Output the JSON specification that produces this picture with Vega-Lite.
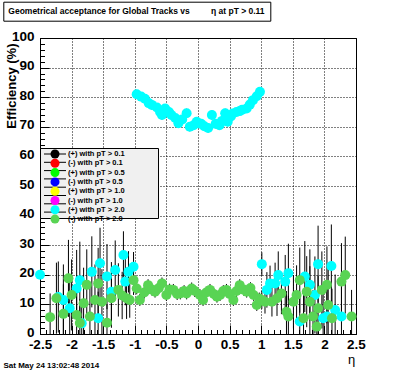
{
  "$schema": "https://vega.github.io/schema/vega-lite/v6.json",
  "width": 316,
  "height": 296,
  "autosize": {"type": "none"},
  "padding": {"left": 40, "top": 38, "right": 40, "bottom": 38},
  "background": "white",
  "config": {
    "view": {"stroke": "black", "strokeWidth": 1},
    "font": "Liberation Sans",
    "axis": {"labelFontWeight": "bold", "labelColor": "black", "titleColor": "black", "tickColor": "black", "domainColor": "black", "labelFontSize": 13.5, "titleFontWeight": "bold"}
  },
  "data": {"values": [
    {"series": "(+) with pT > 2.0", "eta": -2.5, "eff": 20, "lo": 10, "hi": 30},
    {"series": "(+) with pT > 2.0", "eta": -2.21, "eff": 12.5, "lo": 0.5, "hi": 24.5},
    {"series": "(+) with pT > 2.0", "eta": -2.13, "eff": 11.5, "lo": 0, "hi": 23.5},
    {"series": "(+) with pT > 2.0", "eta": -2.03, "eff": 8.7, "lo": 0, "hi": 19.7},
    {"series": "(+) with pT > 2.0", "eta": -1.92, "eff": 15.4, "lo": 2.4, "hi": 28.4},
    {"series": "(+) with pT > 2.0", "eta": -1.87, "eff": 18.2, "lo": 5.2, "hi": 31.2},
    {"series": "(+) with pT > 2.0", "eta": -1.84, "eff": 3.6, "lo": 0, "hi": 11.6},
    {"series": "(+) with pT > 2.0", "eta": -1.68, "eff": 21, "lo": 9, "hi": 33},
    {"series": "(+) with pT > 2.0", "eta": -1.58, "eff": 5.3, "lo": 0, "hi": 14.3},
    {"series": "(+) with pT > 2.0", "eta": -1.55, "eff": 23.9, "lo": 11.9, "hi": 35.9},
    {"series": "(+) with pT > 2.0", "eta": -1.44, "eff": 19.4, "lo": 8.4, "hi": 30.4},
    {"series": "(+) with pT > 2.0", "eta": -1.37, "eff": 14.3, "lo": 4.3, "hi": 24.3},
    {"series": "(+) with pT > 2.0", "eta": -1.31, "eff": 21.6, "lo": 11.6, "hi": 31.6},
    {"series": "(+) with pT > 2.0", "eta": -1.18, "eff": 26.7, "lo": 18.7, "hi": 34.7},
    {"series": "(+) with pT > 2.0", "eta": -1.15, "eff": 17.7, "lo": 9.7, "hi": 25.7},
    {"series": "(+) with pT > 2.0", "eta": -1.1, "eff": 21, "lo": 14, "hi": 28},
    {"series": "(+) with pT > 2.0", "eta": -1.02, "eff": 22.7, "lo": 17.7, "hi": 27.7},
    {"series": "(+) with pT > 2.0", "eta": -0.97, "eff": 81, "lo": 79.5, "hi": 82.5},
    {"series": "(+) with pT > 2.0", "eta": -0.9, "eff": 80.2, "lo": 78.7, "hi": 81.7},
    {"series": "(+) with pT > 2.0", "eta": -0.84, "eff": 79.5, "lo": 78, "hi": 81},
    {"series": "(+) with pT > 2.0", "eta": -0.78, "eff": 78, "lo": 76.5, "hi": 79.5},
    {"series": "(+) with pT > 2.0", "eta": -0.73, "eff": 77.4, "lo": 75.9, "hi": 78.9},
    {"series": "(+) with pT > 2.0", "eta": -0.65, "eff": 76.5, "lo": 75, "hi": 78},
    {"series": "(+) with pT > 2.0", "eta": -0.6, "eff": 75, "lo": 73.5, "hi": 76.5},
    {"series": "(+) with pT > 2.0", "eta": -0.57, "eff": 74, "lo": 72.5, "hi": 75.5},
    {"series": "(+) with pT > 2.0", "eta": -0.52, "eff": 76.2, "lo": 74.7, "hi": 77.7},
    {"series": "(+) with pT > 2.0", "eta": -0.46, "eff": 75, "lo": 73.5, "hi": 76.5},
    {"series": "(+) with pT > 2.0", "eta": -0.42, "eff": 74, "lo": 72.5, "hi": 75.5},
    {"series": "(+) with pT > 2.0", "eta": -0.36, "eff": 73, "lo": 71.5, "hi": 74.5},
    {"series": "(+) with pT > 2.0", "eta": -0.31, "eff": 71.2, "lo": 69.7, "hi": 72.7},
    {"series": "(+) with pT > 2.0", "eta": -0.25, "eff": 72.5, "lo": 71, "hi": 74},
    {"series": "(+) with pT > 2.0", "eta": -0.18, "eff": 74.6, "lo": 73.1, "hi": 76.1},
    {"series": "(+) with pT > 2.0", "eta": -0.13, "eff": 70, "lo": 68.5, "hi": 71.5},
    {"series": "(+) with pT > 2.0", "eta": -0.07, "eff": 70.5, "lo": 69, "hi": 72},
    {"series": "(+) with pT > 2.0", "eta": -0.02, "eff": 71.7, "lo": 70.2, "hi": 73.2},
    {"series": "(+) with pT > 2.0", "eta": 0.05, "eff": 71, "lo": 69.5, "hi": 72.5},
    {"series": "(+) with pT > 2.0", "eta": 0.1, "eff": 70.2, "lo": 68.7, "hi": 71.7},
    {"series": "(+) with pT > 2.0", "eta": 0.16, "eff": 69.6, "lo": 68.1, "hi": 71.1},
    {"series": "(+) with pT > 2.0", "eta": 0.22, "eff": 74, "lo": 72.5, "hi": 75.5},
    {"series": "(+) with pT > 2.0", "eta": 0.28, "eff": 71, "lo": 69.5, "hi": 72.5},
    {"series": "(+) with pT > 2.0", "eta": 0.34, "eff": 70.5, "lo": 69, "hi": 72},
    {"series": "(+) with pT > 2.0", "eta": 0.38, "eff": 72, "lo": 70.5, "hi": 73.5},
    {"series": "(+) with pT > 2.0", "eta": 0.43, "eff": 74.6, "lo": 73.1, "hi": 76.1},
    {"series": "(+) with pT > 2.0", "eta": 0.47, "eff": 71.7, "lo": 70.2, "hi": 73.2},
    {"series": "(+) with pT > 2.0", "eta": 0.52, "eff": 73.5, "lo": 72, "hi": 75},
    {"series": "(+) with pT > 2.0", "eta": 0.55, "eff": 74.5, "lo": 73, "hi": 76},
    {"series": "(+) with pT > 2.0", "eta": 0.61, "eff": 75, "lo": 73.5, "hi": 76.5},
    {"series": "(+) with pT > 2.0", "eta": 0.66, "eff": 75.3, "lo": 73.8, "hi": 76.8},
    {"series": "(+) with pT > 2.0", "eta": 0.7, "eff": 75.8, "lo": 74.3, "hi": 77.3},
    {"series": "(+) with pT > 2.0", "eta": 0.77, "eff": 76.2, "lo": 74.7, "hi": 77.7},
    {"series": "(+) with pT > 2.0", "eta": 0.82, "eff": 77.5, "lo": 76, "hi": 79},
    {"series": "(+) with pT > 2.0", "eta": 0.87, "eff": 79, "lo": 77.5, "hi": 80.5},
    {"series": "(+) with pT > 2.0", "eta": 0.93, "eff": 80.3, "lo": 78.8, "hi": 81.8},
    {"series": "(+) with pT > 2.0", "eta": 0.98, "eff": 81.8, "lo": 80.3, "hi": 83.3},
    {"series": "(+) with pT > 2.0", "eta": 1.01, "eff": 23.6, "lo": 19.6, "hi": 27.6},
    {"series": "(+) with pT > 2.0", "eta": 1.09, "eff": 14.9, "lo": 8.9, "hi": 20.9},
    {"series": "(+) with pT > 2.0", "eta": 1.14, "eff": 17.1, "lo": 11.1, "hi": 23.1},
    {"series": "(+) with pT > 2.0", "eta": 1.22, "eff": 17.1, "lo": 10.1, "hi": 24.1},
    {"series": "(+) with pT > 2.0", "eta": 1.27, "eff": 19.9, "lo": 11.9, "hi": 27.9},
    {"series": "(+) with pT > 2.0", "eta": 1.38, "eff": 17.7, "lo": 8.7, "hi": 26.7},
    {"series": "(+) with pT > 2.0", "eta": 1.43, "eff": 20.5, "lo": 10.5, "hi": 30.5},
    {"series": "(+) with pT > 2.0", "eta": 1.61, "eff": 4.2, "lo": 0, "hi": 12.2},
    {"series": "(+) with pT > 2.0", "eta": 1.69, "eff": 19.4, "lo": 7.4, "hi": 31.4},
    {"series": "(+) with pT > 2.0", "eta": 1.77, "eff": 16.6, "lo": 4.6, "hi": 28.6},
    {"series": "(+) with pT > 2.0", "eta": 1.85, "eff": 13.2, "lo": 0.2, "hi": 26.2},
    {"series": "(+) with pT > 2.0", "eta": 1.9, "eff": 23.6, "lo": 10.6, "hi": 36.6},
    {"series": "(+) with pT > 2.0", "eta": 1.98, "eff": 5.3, "lo": 0, "hi": 15.3},
    {"series": "(+) with pT > 2.0", "eta": 2.04, "eff": 5.9, "lo": 0, "hi": 15.9},
    {"series": "(+) with pT > 2.0", "eta": 2.11, "eff": 23, "lo": 9, "hi": 37},
    {"series": "(+) with pT > 2.0", "eta": 2.17, "eff": 8.1, "lo": 0, "hi": 20.1},
    {"series": "(+) with pT > 2.0", "eta": 2.27, "eff": 5.9, "lo": 0, "hi": 15.9},
    {"series": "(-) with pT > 2.0", "eta": -2.34, "eff": 5.7, "lo": 0, "hi": 13.7},
    {"series": "(-) with pT > 2.0", "eta": -2.24, "eff": 12.1, "lo": 0.1, "hi": 24.1},
    {"series": "(-) with pT > 2.0", "eta": -2.13, "eff": 6.8, "lo": 0, "hi": 16.8},
    {"series": "(-) with pT > 2.0", "eta": -2.05, "eff": 18.8, "lo": 5.8, "hi": 31.8},
    {"series": "(-) with pT > 2.0", "eta": -2.0, "eff": 13.2, "lo": 1.2, "hi": 25.2},
    {"series": "(-) with pT > 2.0", "eta": -1.92, "eff": 6.4, "lo": 0, "hi": 16.4},
    {"series": "(-) with pT > 2.0", "eta": -1.87, "eff": 3.7, "lo": 0, "hi": 11.7},
    {"series": "(-) with pT > 2.0", "eta": -1.81, "eff": 10.4, "lo": 0, "hi": 22.4},
    {"series": "(-) with pT > 2.0", "eta": -1.76, "eff": 16.6, "lo": 4.6, "hi": 28.6},
    {"series": "(-) with pT > 2.0", "eta": -1.71, "eff": 5.9, "lo": 0, "hi": 15.9},
    {"series": "(-) with pT > 2.0", "eta": -1.63, "eff": 11.5, "lo": 0, "hi": 23.5},
    {"series": "(-) with pT > 2.0", "eta": -1.58, "eff": 17.1, "lo": 5.1, "hi": 29.1},
    {"series": "(-) with pT > 2.0", "eta": -1.52, "eff": 10.9, "lo": 0, "hi": 21.9},
    {"series": "(-) with pT > 2.0", "eta": -1.44, "eff": 3.8, "lo": 0, "hi": 9.8},
    {"series": "(-) with pT > 2.0", "eta": -1.37, "eff": 12.1, "lo": 2.1, "hi": 22.1},
    {"series": "(-) with pT > 2.0", "eta": -1.26, "eff": 14.9, "lo": 5.9, "hi": 23.9},
    {"series": "(-) with pT > 2.0", "eta": -1.2, "eff": 13, "lo": 5, "hi": 21},
    {"series": "(-) with pT > 2.0", "eta": -1.13, "eff": 12.1, "lo": 5.1, "hi": 19.1},
    {"series": "(-) with pT > 2.0", "eta": -1.08, "eff": 11.5, "lo": 5.5, "hi": 17.5},
    {"series": "(-) with pT > 2.0", "eta": -1.02, "eff": 18.2, "lo": 13.2, "hi": 23.2},
    {"series": "(-) with pT > 2.0", "eta": -0.97, "eff": 15.4, "lo": 13.4, "hi": 17.4},
    {"series": "(-) with pT > 2.0", "eta": -0.92, "eff": 11.5, "lo": 9.5, "hi": 13.5},
    {"series": "(-) with pT > 2.0", "eta": -0.85, "eff": 14, "lo": 12, "hi": 16},
    {"series": "(-) with pT > 2.0", "eta": -0.79, "eff": 16.5, "lo": 14.5, "hi": 18.5},
    {"series": "(-) with pT > 2.0", "eta": -0.73, "eff": 15, "lo": 13, "hi": 17},
    {"series": "(-) with pT > 2.0", "eta": -0.68, "eff": 14.3, "lo": 12.3, "hi": 16.3},
    {"series": "(-) with pT > 2.0", "eta": -0.62, "eff": 15.5, "lo": 13.5, "hi": 17.5},
    {"series": "(-) with pT > 2.0", "eta": -0.57, "eff": 17.1, "lo": 15.1, "hi": 19.1},
    {"series": "(-) with pT > 2.0", "eta": -0.5, "eff": 13.2, "lo": 11.2, "hi": 15.2},
    {"series": "(-) with pT > 2.0", "eta": -0.45, "eff": 15, "lo": 13, "hi": 17},
    {"series": "(-) with pT > 2.0", "eta": -0.39, "eff": 14.9, "lo": 12.9, "hi": 16.9},
    {"series": "(-) with pT > 2.0", "eta": -0.33, "eff": 13.5, "lo": 11.5, "hi": 15.5},
    {"series": "(-) with pT > 2.0", "eta": -0.28, "eff": 13.7, "lo": 11.7, "hi": 15.7},
    {"series": "(-) with pT > 2.0", "eta": -0.22, "eff": 14.5, "lo": 12.5, "hi": 16.5},
    {"series": "(-) with pT > 2.0", "eta": -0.18, "eff": 13.7, "lo": 11.7, "hi": 15.7},
    {"series": "(-) with pT > 2.0", "eta": -0.1, "eff": 15.4, "lo": 13.4, "hi": 17.4},
    {"series": "(-) with pT > 2.0", "eta": -0.05, "eff": 14.5, "lo": 12.5, "hi": 16.5},
    {"series": "(-) with pT > 2.0", "eta": 0.03, "eff": 13.2, "lo": 11.2, "hi": 15.2},
    {"series": "(-) with pT > 2.0", "eta": 0.08, "eff": 11.5, "lo": 9.5, "hi": 13.5},
    {"series": "(-) with pT > 2.0", "eta": 0.13, "eff": 14, "lo": 12, "hi": 16},
    {"series": "(-) with pT > 2.0", "eta": 0.19, "eff": 14.9, "lo": 12.9, "hi": 16.9},
    {"series": "(-) with pT > 2.0", "eta": 0.25, "eff": 13.5, "lo": 11.5, "hi": 15.5},
    {"series": "(-) with pT > 2.0", "eta": 0.3, "eff": 12.6, "lo": 10.6, "hi": 14.6},
    {"series": "(-) with pT > 2.0", "eta": 0.35, "eff": 13.2, "lo": 11.2, "hi": 15.2},
    {"series": "(-) with pT > 2.0", "eta": 0.4, "eff": 14.5, "lo": 12.5, "hi": 16.5},
    {"series": "(-) with pT > 2.0", "eta": 0.45, "eff": 14.9, "lo": 12.9, "hi": 16.9},
    {"series": "(-) with pT > 2.0", "eta": 0.5, "eff": 13.5, "lo": 11.5, "hi": 15.5},
    {"series": "(-) with pT > 2.0", "eta": 0.56, "eff": 11.5, "lo": 9.5, "hi": 13.5},
    {"series": "(-) with pT > 2.0", "eta": 0.61, "eff": 14.5, "lo": 12.5, "hi": 16.5},
    {"series": "(-) with pT > 2.0", "eta": 0.66, "eff": 16.5, "lo": 14.5, "hi": 18.5},
    {"series": "(-) with pT > 2.0", "eta": 0.72, "eff": 15, "lo": 13, "hi": 17},
    {"series": "(-) with pT > 2.0", "eta": 0.77, "eff": 14.3, "lo": 12.3, "hi": 16.3},
    {"series": "(-) with pT > 2.0", "eta": 0.83, "eff": 15.5, "lo": 13.5, "hi": 17.5},
    {"series": "(-) with pT > 2.0", "eta": 0.88, "eff": 13.2, "lo": 11.2, "hi": 15.2},
    {"series": "(-) with pT > 2.0", "eta": 0.93, "eff": 9.8, "lo": 7.8, "hi": 11.8},
    {"series": "(-) with pT > 2.0", "eta": 0.97, "eff": 12, "lo": 10, "hi": 14},
    {"series": "(-) with pT > 2.0", "eta": 1.01, "eff": 11.5, "lo": 8.5, "hi": 14.5},
    {"series": "(-) with pT > 2.0", "eta": 1.06, "eff": 10.9, "lo": 6.9, "hi": 14.9},
    {"series": "(-) with pT > 2.0", "eta": 1.17, "eff": 10.9, "lo": 5.9, "hi": 15.9},
    {"series": "(-) with pT > 2.0", "eta": 1.25, "eff": 12.1, "lo": 6.1, "hi": 18.1},
    {"series": "(-) with pT > 2.0", "eta": 1.32, "eff": 13.7, "lo": 6.7, "hi": 20.7},
    {"series": "(-) with pT > 2.0", "eta": 1.4, "eff": 7.5, "lo": 0.5, "hi": 14.5},
    {"series": "(-) with pT > 2.0", "eta": 1.43, "eff": 5.9, "lo": 0, "hi": 12.9},
    {"series": "(-) with pT > 2.0", "eta": 1.51, "eff": 10.9, "lo": 1.9, "hi": 19.9},
    {"series": "(-) with pT > 2.0", "eta": 1.56, "eff": 13.2, "lo": 3.2, "hi": 23.2},
    {"series": "(-) with pT > 2.0", "eta": 1.61, "eff": 18.2, "lo": 7.2, "hi": 29.2},
    {"series": "(-) with pT > 2.0", "eta": 1.67, "eff": 5.3, "lo": 0, "hi": 13.3},
    {"series": "(-) with pT > 2.0", "eta": 1.72, "eff": 14.3, "lo": 2.3, "hi": 26.3},
    {"series": "(-) with pT > 2.0", "eta": 1.77, "eff": 10.9, "lo": 0, "hi": 22.9},
    {"series": "(-) with pT > 2.0", "eta": 1.82, "eff": 5.9, "lo": 0, "hi": 14.9},
    {"series": "(-) with pT > 2.0", "eta": 1.88, "eff": 2.5, "lo": 0, "hi": 8.5},
    {"series": "(-) with pT > 2.0", "eta": 1.9, "eff": 8.7, "lo": 0, "hi": 19.7},
    {"series": "(-) with pT > 2.0", "eta": 1.96, "eff": 14.9, "lo": 1.9, "hi": 27.9},
    {"series": "(-) with pT > 2.0", "eta": 2.04, "eff": 16.6, "lo": 3.6, "hi": 29.6},
    {"series": "(-) with pT > 2.0", "eta": 2.06, "eff": 9.8, "lo": 0, "hi": 21.8},
    {"series": "(-) with pT > 2.0", "eta": 2.12, "eff": 5.3, "lo": 0, "hi": 15.3},
    {"series": "(-) with pT > 2.0", "eta": 2.27, "eff": 17.7, "lo": 4.7, "hi": 30.7},
    {"series": "(-) with pT > 2.0", "eta": 2.33, "eff": 19.9, "lo": 6.9, "hi": 32.9},
    {"series": "(-) with pT > 2.0", "eta": 2.43, "eff": 5.9, "lo": 0, "hi": 14.9}
  ]},
  "layer": [
    {
      "mark": {"type": "rule", "clip": true, "opacity": 1},
      "encoding": {
        "x": {"field": "eta", "type": "quantitative", "scale": {"domain": [-2.5, 2.5], "nice": false, "zero": false},
          "axis": {"orient": "bottom", "values": [-2.4, -2.3, -2.2, -2.1, -1.9, -1.8, -1.7, -1.6, -1.4, -1.3, -1.2, -1.1, -0.9, -0.8, -0.7, -0.6, -0.4, -0.3, -0.2, -0.1, 0.1, 0.2, 0.3, 0.4, 0.6, 0.7, 0.8, 0.9, 1.1, 1.2, 1.3, 1.4, 1.6, 1.7, 1.8, 1.9, 2.1, 2.2, 2.3, 2.4],
            "labels": false, "domain": false, "grid": false, "tickSize": -4.5, "tickColor": "black",
            "title": "Sat May 24 13:02:48 2014", "titleFontSize": 8, "titleFontWeight": "bold", "titleX": -37, "titleY": 31, "titleAlign": "left", "titleBaseline": "middle", "titleAngle": 0}},
        "y": {"field": "lo", "type": "quantitative", "scale": {"domain": [0, 100], "nice": false, "zero": false},
          "axis": {"orient": "left", "values": [2, 4, 6, 8, 12, 14, 16, 18, 22, 24, 26, 28, 32, 34, 36, 38, 42, 44, 46, 48, 52, 54, 56, 58, 62, 64, 66, 68, 72, 74, 76, 78, 82, 84, 86, 88, 92, 94, 96, 98],
            "labels": false, "domain": false, "grid": false, "tickSize": -4.5, "tickColor": "black", "title": null}},
        "y2": {"field": "hi"},
        "strokeWidth": {"field": "series", "type": "ordinal", "scale": {"range": [1, 1]},
          "legend": {"orient": "none", "legendX": -36.7, "legendY": -36.3, "values": [], "title": "\u00a0\u00a0Geometrical acceptance for Global Tracks vs\u00a0\u00a0\u00a0\u00a0\u00a0\u00a0\u00a0\u00a0\u00a0η at pT > 0.11\u00a0\u00a0\u00a0\u00a0\u00a0\u00a0\u00a0\u00a0\u00a0\u00a0\u00a0\u00a0\u00a0\u00a0\u00a0\u00a0\u00a0\u00a0\u00a0\u00a0\u00a0\u00a0\u00a0\u00a0\u00a0\u00a0\u00a0\u00a0", "titleFontSize": 8.5, "titleFontWeight": "bold", "titleColor": "black", "titlePadding": 0, "titleLimit": 400, "padding": 5, "fillColor": "white", "strokeColor": "black", "zindex": 2}},
        "color": {"field": "series", "type": "nominal",
          "scale": {"domain": ["(-) with pT > 2.0", "(+) with pT > 2.0", "(-) with pT > 1.0", "(+) with pT > 1.0", "(-) with pT > 0.5", "(+) with pT > 0.5", "(-) with pT > 0.1", "(+) with pT > 0.1"],
            "range": ["black", "black", "black", "black", "black", "black", "black", "black"]},
          "legend": {"orient": "none", "legendX": 0, "legendY": 110, "title": null, "symbolType": "M-2.75,0L2.75,0", "symbolSize": 64, "symbolStrokeWidth": 1, "symbolFillColor": "transparent", "symbolOffset": 9, "labelOffset": 68, "labelFontSize": 7.5, "labelFontWeight": "bold", "labelColor": "transparent", "labelExpr": "slice(datum.label, 9)", "fillColor": "#f0f0f0", "strokeColor": "black", "padding": 1.5, "rowPadding": 0.3, "zindex": 0}}
      }
    },
    {
      "mark": {"type": "circle", "opacity": 1, "size": 100},
      "encoding": {
        "x": {"field": "eta", "type": "quantitative", "scale": {"domain": [-2.5, 2.5], "nice": false, "zero": false},
          "axis": {"orient": "bottom", "values": [-2.5, -2, -1.5, -1, -0.5, 0, 0.5, 1, 1.5, 2, 2.5], "labelExpr": "'' + datum.value", "labelFlush": false, "labelOverlap": false, "labelPadding": 12, "tickSize": -9,
            "grid": true, "gridColor": "black", "gridDash": [1, 2], "gridOpacity": 1, "gridWidth": 1,
            "title": "η", "titleFontSize": 13, "titleFontWeight": "normal", "titleX": 311, "titleY": 25, "titleAlign": "center", "titleBaseline": "middle"}},
        "y": {"field": "eff", "type": "quantitative", "scale": {"domain": [0, 100], "nice": false, "zero": false},
          "axis": {"orient": "left", "values": [0, 10, 20, 30, 40, 50, 60, 70, 80, 90, 100], "labelPadding": 15, "labelOffset": -2, "tickSize": -9,
            "grid": true, "gridColor": "black", "gridDash": [1, 2], "gridOpacity": 1, "gridWidth": 1,
            "title": "Efficiency (%)", "titleFontSize": 13, "titleX": -35, "titleY": 5, "titleAlign": "right", "titleAngle": -90, "titleBaseline": "top"}},
        "fill": {"field": "series", "type": "nominal",
          "scale": {"domain": ["(+) with pT > 0.1", "(-) with pT > 0.1", "(+) with pT > 0.5", "(-) with pT > 0.5", "(+) with pT > 1.0", "(-) with pT > 1.0", "(+) with pT > 2.0", "(-) with pT > 2.0"],
            "range": ["#000000", "#ff0000", "#00ff00", "#0000ff", "#ffff00", "#ff00ff", "#00ffff", "#59d454"]},
          "legend": {"orient": "none", "legendX": 0, "legendY": 110, "title": null, "symbolType": "circle", "symbolSize": 81, "symbolStrokeWidth": 0, "symbolOffset": 9, "labelOffset": 8.5, "labelFontSize": 7.5, "labelFontWeight": "bold", "labelColor": "black", "padding": 1.5, "rowPadding": 0.3, "zindex": 1}}
      }
    }
  ],
  "resolve": {"axis": {"x": "independent", "y": "independent"}}
}
